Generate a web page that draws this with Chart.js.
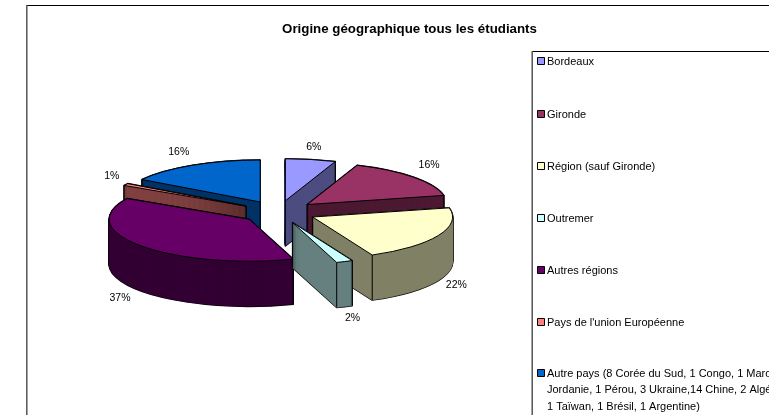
<!DOCTYPE html>
<html>
<head>
<meta charset="utf-8">
<style>html,body{margin:0;padding:0;background:#fff}canvas{display:block;filter:blur(0.4px)}</style>
<script src="https://cdn.jsdelivr.net/npm/chart.js@4/dist/chart.umd.min.js"></script>
</head>
<body>
<canvas id="c" width="769" height="415"></canvas>
<script>
const titleText = "Origine géographique tous les étudiants";
const categories = ["Bordeaux","Gironde","Région (sauf Gironde)","Outremer","Autres régions","Pays de l'union Européenne","Autre pays"];
const legendLines = [
  ["Bordeaux"],
  ["Gironde"],
  ["Région (sauf Gironde)"],
  ["Outremer"],
  ["Autres régions"],
  ["Pays de l'union Européenne"],
  ["Autre pays (8 Corée du Sud, 1 Congo, 1 Maroc,","Jordanie, 1 Pérou, 3 Ukraine,14 Chine, 2 Algérie,","1 Taïwan, 1 Brésil, 1 Argentine)"]
];
const sliceValues = [5.8,15.7,21.5,1.9,38.3,0.8,16.0];
const percentLabels = ["6%","16%","22%","2%","37%","1%","16%"];
const topColors = ["#9999FF","#993366","#FFFFCC","#CCFFFF","#660066","#FF8080","#0066CC"];
const wallColors = ["#4C4C80","#4C1933","#808066","#668080","#330033","#804040","#003366"];

const squash = 0.3, depth = 45, explode = 38;
const labelNudge = [[3,-12],[16,-12],[18,4.5],[8,11.5],[-21,7.5],[-14,-8],[-14,-13]];
const legendY = [61.5,114.5,166.5,218.5,270.5,322.5,373.5];
const legendLineGap = 16.5;
const FONT = '"Liberation Sans", Arial, sans-serif';

function slicePath(ctx, g, dy) {
  const mid = (g.startAngle + g.endAngle) / 2;
  const ax = g.x + Math.cos(mid) * explode;
  const ay = g.y + Math.sin(mid) * explode * squash + dy;
  ctx.beginPath();
  ctx.moveTo(ax, ay);
  ctx.ellipse(ax, ay, g.outerRadius, g.outerRadius * squash, 0, g.startAngle, g.endAngle);
  ctx.closePath();
  return {ax, ay};
}

const pie3d = {
  id: 'pie3d',
  beforeDraw(chart) {
    const ctx = chart.ctx;
    ctx.save();
    ctx.fillStyle = '#fff';
    ctx.fillRect(0, 0, chart.width, chart.height);
    ctx.strokeStyle = '#000';
    ctx.lineWidth = 1;
    ctx.beginPath(); ctx.moveTo(27, 5.5); ctx.lineTo(769, 5.5); ctx.stroke();
    ctx.beginPath(); ctx.moveTo(532, 51.5); ctx.lineTo(769, 51.5); ctx.stroke();
    ctx.strokeStyle = '#555';
    ctx.lineWidth = 1.5;
    ctx.beginPath(); ctx.moveTo(26.8, 5); ctx.lineTo(26.8, 415); ctx.stroke();
    ctx.beginPath(); ctx.moveTo(532.2, 51); ctx.lineTo(532.2, 415); ctx.stroke();
    ctx.fillStyle = '#000';
    ctx.font = 'bold 13.3px ' + FONT;
    ctx.textAlign = 'center';
    ctx.textBaseline = 'middle';
    ctx.fillText(titleText, 409.5, 29.5);
    ctx.restore();
  },
  beforeDatasetsDraw(chart) {
    const ctx = chart.ctx;
    const arcs = chart.getDatasetMeta(0).data;
    const geos = arcs.map(a => a.getProps(['x','y','startAngle','endAngle','outerRadius']));
    const order = geos.map((g,i) => i).sort((p,q) =>
      Math.sin((geos[p].startAngle+geos[p].endAngle)/2) - Math.sin((geos[q].startAngle+geos[q].endAngle)/2));
    ctx.save();
    ctx.lineJoin = 'round';
    for (const i of order) {
      const g = geos[i];
      // silhouette outline of the extruded slice
      ctx.strokeStyle = '#000';
      ctx.lineWidth = 1.6;
      for (let d = depth; d >= 0; d--) { slicePath(ctx, g, d); ctx.stroke(); }
      // wall body
      ctx.fillStyle = wallColors[i];
      ctx.strokeStyle = wallColors[i];
      ctx.lineWidth = 0.5;
      for (let d = depth; d >= 0; d--) { slicePath(ctx, g, d); ctx.fill(); ctx.stroke(); }
      // creases only where a neighbouring wall faces the viewer
      const {ax, ay} = slicePath(ctx, g, 0);
      const R = g.outerRadius;
      const a0 = g.startAngle, a1 = g.endAngle;
      const startWall = Math.cos(a0) < 0, endWall = Math.cos(a1) > 0;
      const verts = [];
      if (startWall || endWall) verts.push([ax, ay]);
      if (startWall || Math.sin(a0) > 0) verts.push([ax + R*Math.cos(a0), ay + R*squash*Math.sin(a0)]);
      if (endWall || Math.sin(a1) > 0) verts.push([ax + R*Math.cos(a1), ay + R*squash*Math.sin(a1)]);
      ctx.strokeStyle = '#000';
      ctx.lineWidth = 1;
      ctx.beginPath();
      for (const [vx, vy] of verts) { ctx.moveTo(vx, vy); ctx.lineTo(vx, vy + depth); }
      ctx.stroke();
      slicePath(ctx, g, 0);
      ctx.fillStyle = topColors[i];
      ctx.fill();
      ctx.stroke();
    }
    // data labels
    ctx.fillStyle = '#000';
    ctx.font = '10.5px ' + FONT;
    ctx.textAlign = 'center';
    ctx.textBaseline = 'middle';
    geos.forEach((g, i) => {
      const mid = (g.startAngle + g.endAngle) / 2;
      const reach = g.outerRadius + explode;
      const s = Math.sin(mid);
      const px = g.x + Math.cos(mid) * reach + labelNudge[i][0];
      const py = g.y + s * reach * squash + (s > 0 ? depth : 0) + labelNudge[i][1];
      ctx.fillText(percentLabels[i], px, py);
    });
    // legend
    ctx.font = '11px ' + FONT;
    ctx.textAlign = 'left';
    legendLines.forEach((lines, i) => {
      ctx.fillStyle = topColors[i];
      ctx.fillRect(537.5, legendY[i] - 4, 7, 7);
      ctx.strokeStyle = '#000';
      ctx.strokeRect(537.5, legendY[i] - 4, 7, 7);
      ctx.fillStyle = '#000';
      lines.forEach((t, k) => ctx.fillText(t, 547, legendY[i] + k * legendLineGap));
    });
    ctx.restore();
    return false;
  }
};

new Chart(document.getElementById('c'), {
  type: 'pie',
  plugins: [pie3d],
  data: {
    labels: categories,
    datasets: [{ data: sliceValues, backgroundColor: topColors, radius: 140, borderWidth: 0 }]
  },
  options: {
    responsive: false,
    animation: false,
    layout: { padding: { left: 0, right: 212, top: 9, bottom: 0 } },
    plugins: { legend: { display: false }, title: { display: false }, tooltip: { enabled: false } }
  }
});
</script>
</body>
</html>
